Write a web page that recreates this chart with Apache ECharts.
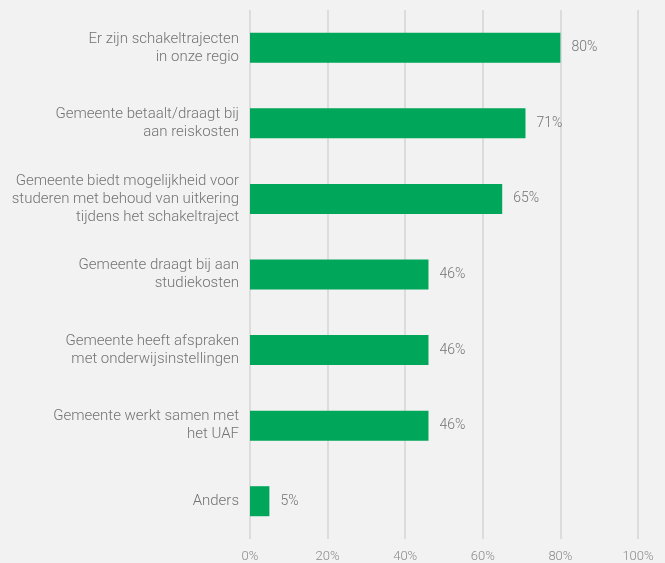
<!DOCTYPE html>
<html>
<head>
<meta charset="utf-8">
<script src="https://cdn.jsdelivr.net/npm/echarts@6/dist/echarts.min.js"></script>
<style>
  html, body { margin: 0; padding: 0; background: #f2f2f2; }
  #chart { width: 665px; height: 563px; }
</style>
</head>
<body>
<div id="chart"></div>
<script>
// categorieën (van boven naar beneden)
var categories = [
  'Er zijn schakeltrajecten\nin onze regio',
  'Gemeente betaalt/draagt bij\naan reiskosten',
  'Gemeente biedt mogelijkheid voor\nstuderen met behoud van uitkering\ntijdens het schakeltraject',
  'Gemeente draagt bij aan\nstudiekosten',
  'Gemeente heeft afspraken\nmet onderwijsinstellingen',
  'Gemeente werkt samen met\nhet UAF',
  'Anders'
];
// percentages
var values = [80, 71, 65, 46, 46, 46, 5];

var myChart = echarts.init(document.getElementById('chart'));
var option = {
  backgroundColor: '#f2f2f2',
  textStyle: { fontFamily: 'Roboto', fontWeight: 300 },
  grid: { left: 250, right: 27, top: 10, bottom: 23 },
  xAxis: {
    type: 'value',
    min: 0,
    max: 100,
    interval: 20,
    axisLine: { show: false },
    axisTick: { show: false },
    axisLabel: {
      formatter: '{value}%',
      color: '#8a8a8a',
      fontSize: 13,
      fontFamily: 'Roboto',
      fontWeight: 300,
      margin: 11
    },
    splitLine: { lineStyle: { color: '#dcdcdc', width: 2 } }
  },
  yAxis: {
    type: 'category',
    inverse: true,
    data: categories,
    axisLine: { show: false },
    axisTick: { show: false },
    axisLabel: {
      color: '#737373',
      fontSize: 15,
      lineHeight: 18,
      fontFamily: 'Roboto',
      fontWeight: 300,
      margin: 11,
      align: 'right'
    }
  },
  series: [{
    type: 'bar',
    data: values,
    barWidth: 30,
    itemStyle: { color: '#00a65a' },
    label: {
      show: true,
      position: 'right',
      distance: 11,
      formatter: '{c}%',
      color: '#737373',
      fontSize: 14,
      fontFamily: 'Roboto',
      fontWeight: 300
    },
    animation: false
  }]
};
myChart.setOption(option);
</script>
</body>
</html>
